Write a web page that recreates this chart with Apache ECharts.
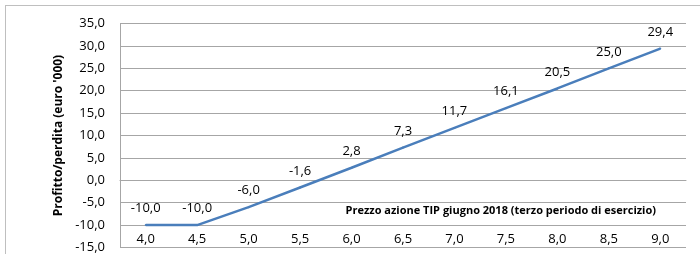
<!DOCTYPE html>
<html>
<head>
<meta charset="utf-8">
<script src="https://cdn.jsdelivr.net/npm/echarts@6/dist/echarts.min.js"></script>
<style>
  html, body { margin: 0; padding: 0; background: #fff; }
  .frame {
    position: absolute; left: 5px; top: 5px; width: 700px; height: 260px;
    border: 1px solid #bfbfbf; box-sizing: border-box;
  }
  #chart { position: absolute; left: 0; top: 0; width: 700px; height: 254px; }
</style>
</head>
<body>
<div class="frame"></div>
<div id="chart"></div>
<script>
// prezzo azione (categorie asse x)
const prices = ["4,0", "4,5", "5,0", "5,5", "6,0", "6,5", "7,0", "7,5", "8,0", "8,5", "9,0"];
// profitto/perdita in migliaia di euro
const profit = [-10.0, -10.0, -6.0, -1.6, 2.8, 7.3, 11.7, 16.1, 20.5, 25.0, 29.4];

const fmt = v => v.toFixed(1).replace(".", ",");
const font = "'Open Sans', 'Noto Sans', sans-serif";
const blue = "#4a7ebb";

let myChart = echarts.init(document.getElementById("chart"));
myChart.setOption({
  animation: false,
  textStyle: { fontFamily: font },
  // titolo dell'asse x, dentro l'area del grafico come nell'originale
  title: {
    text: "Prezzo azione TIP giugno 2018 (terzo periodo di esercizio)",
    right: 44,
    top: 205,
    padding: 0,
    textStyle: { fontWeight: "bold", fontSize: 11, color: "#000", fontFamily: font }
  },
  grid: { left: 120, right: 14, top: 23.5, bottom: 4 },
  xAxis: {
    type: "category",
    data: prices,
    boundaryGap: true,
    axisLine: { show: true, lineStyle: { color: "#a6a6a6", width: 1 } },
    axisTick: { show: false },
    axisLabel: { inside: true, margin: 2, color: "#000", fontSize: 13, fontFamily: font }
  },
  yAxis: {
    type: "value",
    min: -15,
    max: 35,
    interval: 5,
    axisLine: { show: true, lineStyle: { color: "#a6a6a6", width: 1 } },
    axisTick: { show: false },
    splitLine: { lineStyle: { color: "#a6a6a6", width: 1 } },
    axisLabel: { margin: 15, color: "#000", fontSize: 13, fontFamily: font, formatter: fmt },
    name: "Profitto/perdita (euro '000)",
    nameLocation: "middle",
    nameGap: 50,
    nameTextStyle: { fontWeight: "bold", fontSize: 12, color: "#000", fontFamily: font }
  },
  series: [
    {
      type: "line",
      data: profit,
      symbol: "circle",
      symbolSize: 2,
      showSymbol: true,
      itemStyle: { color: blue, borderWidth: 0 },
      lineStyle: { color: blue, width: 2.5 },
      label: {
        show: true,
        position: "top",
        distance: 9,
        color: "#000",
        fontSize: 13,
        fontFamily: font,
        formatter: p => fmt(p.value)
      }
    }
  ]
});
</script>
</body>
</html>
